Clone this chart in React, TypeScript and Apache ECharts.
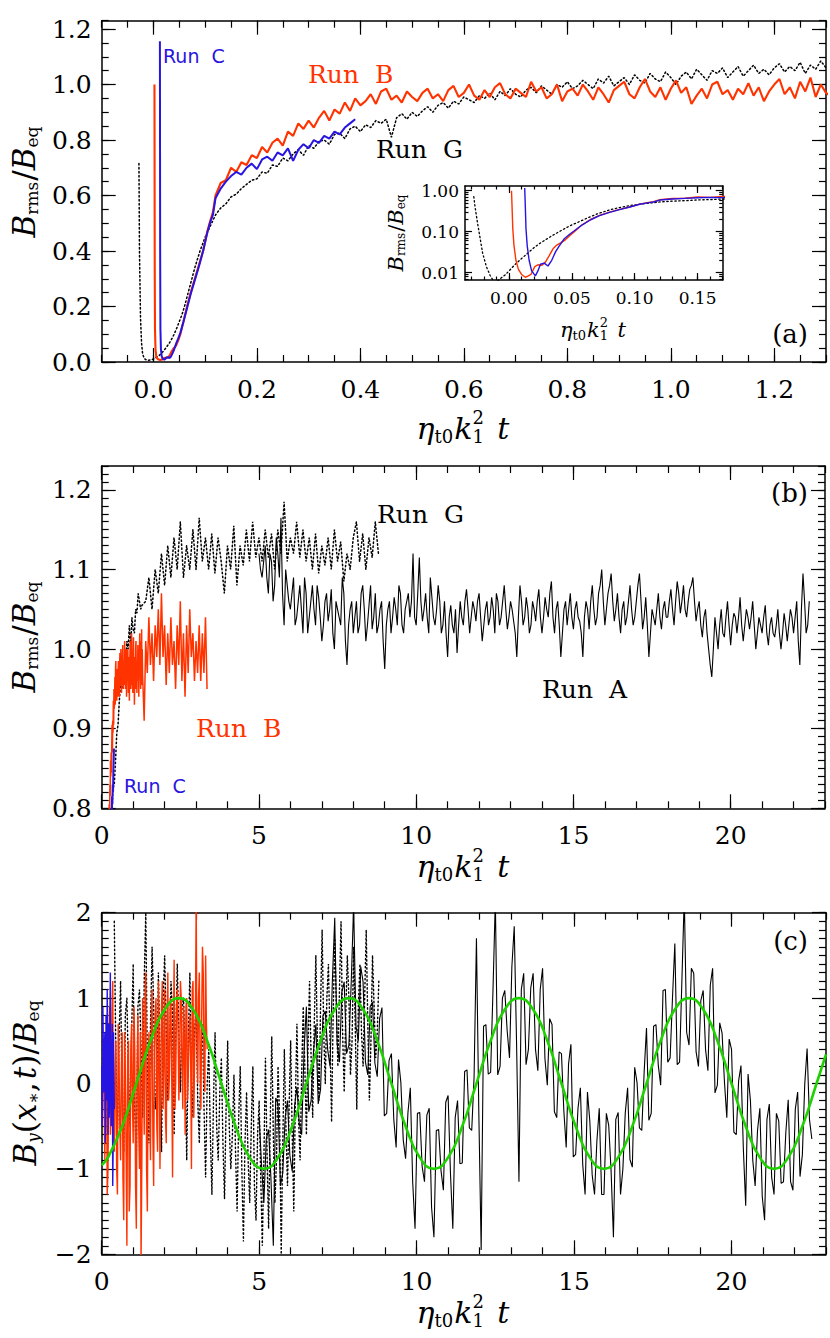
import React, { useEffect, useRef } from "react";
import * as echarts from "echarts";

// ---------------- Panels (a) and (b): B_rms / B_eq ----------------
// Run B (red): early phase as explicit (t, value) pairs
const runB_early: [number, number][] = [
  [0.002, 1.0], [0.0025, 0.35], [0.003, 0.12], [0.004, 0.045], [0.0055, 0.02], [0.0075, 0.012],
  [0.01, 0.009], [0.013, 0.0077], [0.015, 0.0082], [0.0175, 0.009], [0.0205, 0.014], [0.023, 0.0155],
  [0.026, 0.015], [0.029, 0.018], [0.032, 0.026], [0.035, 0.038], [0.038, 0.047], [0.041, 0.053],
  [0.044, 0.06], [0.048, 0.078], [0.052, 0.1], [0.058, 0.145], [0.065, 0.2], [0.072, 0.25],
  [0.08, 0.3], [0.088, 0.35], [0.096, 0.4], [0.104, 0.47], [0.11, 0.51], [0.115, 0.54],
];
// Run B, sampled every 0.01 from t = 0.12 to 1.30
const runB_midStart = 0.12;
const runB_midStep = 0.01;
const runB_mid = [
  0.60, 0.645, 0.655, 0.70, 0.685, 0.72, 0.71, 0.745, 0.735, 0.775,
  0.755, 0.79, 0.805, 0.78, 0.83, 0.815, 0.86, 0.84, 0.87, 0.845,
  0.88, 0.905, 0.87, 0.91, 0.895, 0.935, 0.905, 0.95, 0.925, 0.94,
  0.965, 0.93, 0.975, 0.985, 0.945, 0.96, 0.935, 0.975, 0.955, 0.94,
  0.97, 0.985, 0.95, 0.965, 0.94, 0.98, 0.995, 0.955, 0.97, 1.0,
  0.96, 0.945, 0.98, 0.955, 0.99, 1.005, 0.965, 0.95, 0.985, 0.97,
  0.955, 1.01, 0.975, 0.99, 0.95, 0.965, 1.0, 0.94, 0.975, 0.985,
  0.96, 1.0, 0.975, 0.945, 0.99, 0.965, 0.935, 0.98, 0.995, 1.01,
  0.965, 0.95, 0.99, 1.02, 0.975, 0.955, 0.99, 0.945, 0.985, 1.015,
  0.97, 0.99, 0.93, 0.96, 0.985, 0.95, 1.0, 1.01, 0.965, 0.98,
  0.945, 0.985, 0.965, 1.005, 0.96, 0.99, 0.94, 0.975, 1.0, 1.02,
  0.965, 0.99, 0.95, 1.01, 0.975, 1.025, 0.955, 1.0, 0.97,
];
// Run B, sampled every 0.05 from t = 1.35 to 3.35
const runB_lateStart = 1.35;
const runB_lateStep = 0.05;
const runB_late = [
  0.91, 1.01, 0.97, 1.04, 0.98, 1.02, 0.96, 1.03, 0.99, 1.05,
  0.98, 1.07, 0.99, 1.03, 0.955, 1.02, 0.97, 1.04, 0.98, 1.01,
  0.95, 1.03, 0.98, 1.06, 0.96, 1.02, 0.94, 1.03, 0.97, 1.05,
  0.99, 1.02, 0.96, 1.01, 0.97, 1.03, 0.96, 1.02, 0.97, 1.04,
  0.95,
];

// Run C (blue)
const runC_early: [number, number][] = [
  [0.0125, 1.156], [0.013, 0.4], [0.0135, 0.12], [0.0145, 0.045], [0.016, 0.02], [0.018, 0.011],
  [0.021, 0.0083], [0.023, 0.011], [0.025, 0.016], [0.028, 0.017], [0.031, 0.0145], [0.034, 0.02],
  [0.037, 0.032], [0.04, 0.045], [0.044, 0.067], [0.048, 0.085], [0.052, 0.105], [0.058, 0.145],
  [0.065, 0.195], [0.072, 0.245], [0.08, 0.295], [0.088, 0.345], [0.096, 0.4], [0.104, 0.465],
  [0.11, 0.505], [0.115, 0.53],
];
const runC_midStart = 0.12;
const runC_midStep = 0.01;
const runC_mid = [
  0.59, 0.625, 0.65, 0.67, 0.685, 0.675, 0.70, 0.715, 0.695, 0.73,
  0.74, 0.725, 0.755, 0.745, 0.77, 0.725, 0.765, 0.785, 0.77, 0.80,
  0.79, 0.815, 0.805, 0.83, 0.82, 0.845, 0.86, 0.875,
];

// Run G (black dotted)
const runG_early: [number, number][] = [
  [-0.028, 0.715], [-0.027, 0.4], [-0.025, 0.16], [-0.023, 0.07], [-0.021, 0.03], [-0.018, 0.014],
  [-0.015, 0.0085], [-0.012, 0.006], [-0.009, 0.0063], [-0.006, 0.0075], [-0.003, 0.0088], [0.0, 0.011],
  [0.005, 0.016], [0.01, 0.022], [0.015, 0.03], [0.02, 0.041], [0.025, 0.053], [0.03, 0.066],
  [0.035, 0.082], [0.04, 0.1], [0.045, 0.122], [0.05, 0.146], [0.055, 0.17], [0.06, 0.2],
  [0.07, 0.27], [0.08, 0.34], [0.09, 0.4], [0.1, 0.45], [0.11, 0.49],
];
const runG_midStart = 0.12;
const runG_midStep = 0.01;
const runG_mid = [
  0.53, 0.555, 0.57, 0.595, 0.605, 0.625, 0.64, 0.655, 0.66, 0.685,
  0.68, 0.71, 0.705, 0.735, 0.725, 0.75, 0.765, 0.745, 0.78, 0.77,
  0.795, 0.80, 0.785, 0.82, 0.825, 0.805, 0.84, 0.85, 0.83, 0.855,
  0.845, 0.87, 0.86, 0.875, 0.81, 0.88, 0.895, 0.875, 0.90, 0.885,
  0.905, 0.92, 0.90, 0.925, 0.935, 0.915, 0.94, 0.93, 0.955, 0.945,
  0.935, 0.96, 0.95, 0.97, 0.945, 0.975, 0.96, 0.985, 0.965, 0.955,
  0.98, 0.99, 0.97, 0.995, 0.98, 0.965, 1.0, 0.99, 1.01, 0.985,
  0.995, 1.015, 1.0, 0.985, 1.02, 1.005, 1.03, 0.995, 1.01, 1.025,
  1.0, 1.035, 1.015, 1.005, 1.04, 1.02, 1.01, 1.045, 1.025, 1.0,
  1.03, 1.045, 1.02, 1.055, 1.035, 1.015, 1.05, 1.04, 1.06, 1.025,
  1.045, 1.065, 1.03, 1.05, 1.07, 1.04, 1.055, 1.035, 1.06, 1.075,
  1.045, 1.065, 1.05, 1.08, 1.04, 1.07, 1.055, 1.085, 1.06,
];
const runG_lateStart = 1.4;
const runG_lateStep = 0.1;
const runG_late = [
  1.06, 1.09, 1.05, 1.10, 1.07, 1.12, 1.08, 1.13, 1.09, 1.14,
  1.10, 1.16, 1.09, 1.13, 1.10, 1.15, 1.10, 1.165, 1.11, 1.14,
  1.10, 1.145, 1.095, 1.14, 1.11, 1.07, 1.13, 1.10, 1.155, 1.08,
  1.13, 1.105, 1.15, 1.11, 1.16, 1.115, 1.14, 1.11, 1.15, 1.115,
  1.145, 1.10, 1.15, 1.12, 1.185, 1.11, 1.14, 1.12, 1.16, 1.115,
  1.15, 1.11, 1.14, 1.10, 1.145, 1.095, 1.13, 1.105, 1.14, 1.10,
  1.15, 1.11, 1.135, 1.085, 1.12, 1.10, 1.14, 1.16, 1.11, 1.145,
  1.10, 1.14, 1.115, 1.16, 1.12,
];

// Run A (black solid), panel (b): every 0.05 from t = 5.0 to 22.5
const runA_bStart = 5.0;
const runA_bStep = 0.05;
const runA_b = [
  1.12, 1.10, 1.09, 1.11, 1.13, 1.09, 1.07, 1.12, 1.11, 1.06, 1.08, 1.14, 1.12, 1.09, 1.165, 1.07, 1.03, 1.10, 1.08, 1.06,
  1.05, 1.07, 1.09, 1.03, 1.04, 1.06, 1.08, 1.05, 1.02, 1.09, 1.07, 1.02, 1.04, 1.06, 1.08, 1.05, 1.03, 1.08, 1.065, 1.04,
  1.01, 1.03, 1.06, 1.07, 1.035, 1.05, 1.075, 1.02, 1.00, 1.06, 1.05, 1.04, 1.03, 1.09, 1.07, 1.01, 0.98, 1.03, 1.05, 1.06,
  1.02, 1.04, 1.06, 1.02, 1.03, 1.07, 1.08, 1.05, 1.01, 1.03, 1.055, 1.08, 1.025, 1.04, 1.07, 1.02, 1.03, 1.05, 1.06, 1.01,
  0.975, 1.03, 1.05, 1.06, 1.02, 1.04, 1.065, 1.05, 1.03, 1.08, 1.07, 1.03, 1.02, 1.05, 1.06, 1.07, 1.04, 1.06, 1.12, 1.04,
  1.03, 1.07, 1.115, 1.06, 1.035, 1.05, 1.07, 1.04, 1.02, 1.09, 1.065, 1.04, 1.03, 1.05, 1.08, 1.06, 1.02, 1.03, 1.06, 1.02,
  0.99, 1.04, 1.055, 1.03, 1.02, 1.05, 0.995, 1.03, 1.06, 1.04, 1.03, 1.06, 1.075, 1.05, 1.02, 1.04, 1.06, 1.05, 1.035, 1.06,
  1.07, 1.04, 1.01, 1.03, 1.05, 1.06, 1.03, 1.04, 1.065, 1.05, 1.02, 1.07, 1.06, 1.03, 1.04, 1.06, 1.08, 1.05, 1.025, 1.04,
  1.06, 1.05, 1.035, 1.02, 0.99, 1.04, 1.08, 1.06, 1.03, 1.04, 1.065, 1.05, 1.02, 1.03, 1.06, 1.05, 1.035, 1.06, 1.075, 1.04,
  1.02, 1.04, 1.065, 1.05, 1.04, 1.07, 1.085, 1.04, 1.02, 1.05, 1.06, 1.03, 0.99, 1.02, 1.05, 1.06, 1.03, 1.05, 1.07, 1.04,
  1.025, 1.05, 1.06, 1.04, 1.035, 1.02, 0.99, 1.04, 1.06, 1.05, 1.025, 1.06, 1.08, 1.05, 1.03, 1.04, 1.07, 1.08, 1.10, 1.06,
  1.03, 1.05, 1.07, 1.08, 1.095, 1.06, 1.035, 1.05, 1.07, 1.04, 1.02, 1.05, 1.06, 1.03, 1.04, 1.06, 1.08, 1.05, 1.03, 1.04,
  1.06, 1.08, 1.095, 1.06, 1.025, 1.04, 1.065, 1.03, 0.99, 1.02, 1.05, 1.04, 1.03, 1.05, 1.07, 1.04, 1.025, 1.05, 1.06, 1.04,
  1.04, 1.06, 1.075, 1.05, 1.03, 1.06, 1.085, 1.07, 1.045, 1.06, 1.08, 1.05, 1.04, 1.06, 1.075, 1.08, 1.09, 1.06, 1.035, 1.05,
  1.06, 1.03, 1.015, 1.04, 1.05, 1.02, 1.00, 0.98, 0.965, 1.00, 1.04, 1.02, 1.0, 1.03, 1.05, 1.02, 1.015, 1.04, 1.06, 1.03,
  1.005, 1.03, 1.045, 1.04, 1.02, 1.04, 1.065, 1.03, 1.01, 1.03, 1.05, 1.04, 1.025, 1.04, 1.06, 1.03, 1.0, 1.02, 1.04, 1.03,
  1.02, 1.04, 1.055, 1.02, 1.005, 1.03, 1.04, 1.02, 1.015, 1.03, 1.05, 1.02, 1.0, 1.02, 1.045, 1.03, 1.01, 1.03, 1.05, 1.04,
  1.02, 1.04, 1.06, 1.01, 0.98, 1.05, 1.095, 1.06, 1.02, 1.03, 1.06,
];

// ---------------- Panel (c): B_y(x*, t) / B_eq ----------------
// Run A: every 0.075 from t = 5.0 to 22.55
const runA_cStart = 5.0;
const runA_cStep = 0.075;
const runA_c = [
  -0.39, -0.95, -1.40, -0.65, -0.54, -1.12, -1.90, -0.17, -0.24, -1.20,
  -1.05, -0.40, -0.20, -0.84, -1.03, -0.26, -0.04, -0.47, -0.60, 0.38,
  0.90, -0.33, -0.20, 0.37, 0.69, -0.24, -0.07, 0.79, 0.85, 0.40,
  0.20, 1.20, 1.94, 0.47, 0.25, 1.07, 1.19, 0.35, 0.45, 1.20,
  2.09, 0.67, 0.50, 1.37, 1.19, 0.25, 0.10, 0.90, 0.95, 0.24,
  0.08, 0.76, 0.89, -0.38, -0.35, 0.27, 0.35, -0.42, -0.75, 0.28,
  0.01, -0.66, -0.88, -0.34, -0.05, -1.15, -1.70, -0.35, -0.34, -0.97,
  -1.15, -0.37, -0.29, -1.45, -1.80, -0.55, -0.54, -1.02, -1.25, -0.22,
  -0.14, -1.05, -1.70, -0.40, -0.20, -0.94, -0.93, 0.14, 0.16, -0.52,
  -0.55, 0.08, 1.70, -0.33, -1.95, 0.67, 0.69, 0.11, 0.13, 1.09,
  2.15, 0.10, 0.20, 1.00, 1.09, 0.62, 0.30, 1.37, 1.84, 0.45,
  -1.15, 1.10, 1.29, 0.22, 0.40, 1.12, 1.29, 0.40, 0.15, 1.10,
  1.35, 0.29, -0.02, 0.76, 0.69, -0.33, -0.40, 0.37, 0.35, -0.32,
  -0.75, 0.23, 0.46, -0.86, -0.83, -0.29, -0.05, -0.95, -1.30, -0.10,
  -0.44, -1.07, -1.30, -0.67, -0.29, -1.30, -1.30, -0.35, -0.49, -1.02,
  -1.80, -0.42, -0.34, -1.30, -1.00, -0.35, -0.05, -0.89, -0.98, 0.19,
  0.01, -0.52, -0.55, 0.13, 0.65, -0.43, -0.35, 0.67, 0.69, 0.21,
  -0.02, 1.09, 1.10, 0.25, 0.30, 1.00, 1.64, 0.22, 0.25, 1.22,
  2.19, 0.60, 0.45, 1.35, 1.29, 0.37, 0.20, 0.97, 1.09, 0.40,
  0.15, 1.15, 1.35, -0.11, -0.02, 0.71, 0.59, 0.02, -0.40, 0.52,
  0.40, -0.57, -0.60, 0.03, 0.21, -0.76, -1.43, 0.11, -0.20, -0.90,
  -1.20, -0.55, -0.29, -1.32, -1.60, -0.42, -0.24, -1.10, -1.30, -0.35,
  -0.44, -1.17, -1.15, -0.57, -0.19, -1.15, -1.25, -0.30, -0.10, -1.09,
  -0.83, -0.01, 0.41, -0.42, -0.65,
];
// Run G: every 0.05 from t = 0.4 to 8.8
const runG_cStart = 0.4;
const runG_cStep = 0.05;
const runG_c = [
  1.9, 0.3, -0.6, 0.5, 1.2, -0.2, -0.8, 0.8, 1.0, 0.1,
  -0.5, 0.6, 1.4, -0.3, -0.85, 0.9, 1.1, 0.4, -0.4, 1.2,
  2.0, 0.2, -0.7, 0.7, 1.6, 0.9, -0.3, -0.1, 1.3, 0.4,
  -0.8, 1.0, 1.5, 0.6, -0.2, 0.3, 1.2, 0.8, -0.6, 0.5,
  1.4, 0.6, -0.1, 0.9, 1.0, 0.2, -0.9, 0.5, 1.3, 0.1,
  -0.4, 0.6, 0.9, -0.2, -0.7, 0.4, 0.7, -0.3, -1.1, 0.0,
  0.4, -0.6, -1.3, -0.2, 0.6, -0.5, -0.9, -0.1, 0.3, -0.7,
  -1.35, -0.3, 0.5, -0.5, -1.0, -0.6, 0.1, -0.8, -1.5, -0.4,
  0.2, -1.0, -1.85, -0.7, -0.1, -0.9, -1.4, -0.5, 0.2, -1.2,
  -1.6, -0.6, -0.2, -1.1, -1.9, -0.9, 0.3, -0.8, -1.7, -0.5,
  0.55, -0.6, -1.4, -0.9, 0.2, -0.4, -2.0, -0.7, 0.4, -0.5,
  -1.2, -0.3, 0.5, -0.6, -1.5, -0.2, 0.7, -0.4, -0.9, 0.1,
  0.9, 0.2, -0.6, 0.4, 1.2, 0.3, -0.4, 0.7, 1.5, 0.5,
  -0.2, 0.9, 1.8, 0.6, 0.0, 1.0, 1.4, 0.5, -0.45, 0.8,
  1.7, 0.9, 0.2, 1.1, 1.9, 0.6, -0.1, 0.8, 1.5, 1.0,
  0.1, 0.5, 1.6, 0.7, -0.3, 0.9, 1.4, 0.6, 0.2, 1.0,
  1.8, 0.7, -0.2, 0.5, 1.5, 0.9, 0.3, 0.6, 1.2,
];
// Run B: every 0.025 from t = 0.05 to 3.35
const runB_cStart = 0.05;
const runB_cStep = 0.025;
const runB_c = [
  0.4, -0.2, -0.9, 0.5, 0.6, -1.3, -1.0, 0.2, 0.9, -0.6,
  -0.3, 0.8, 1.2, -0.4, -0.8, 0.1, 0.5, -1.0, -1.3, 0.7,
  0.3, -0.5, -0.9, 0.2, 0.6, -1.1, -1.6, 0.6, 0.2, -0.8,
  -1.9, 0.3, 0.5, -1.5, -1.2, 0.4, 0.7, -0.2, -0.7, 0.9,
  0.4, -1.2, -1.7, 0.2, 0.8, -0.5, -1.0, 0.6, -2.1, -0.9,
  1.0, 0.3, -0.6, 0.9, 1.3, -1.0, -1.5, 0.2, 0.6, -0.4,
  -0.9, 0.7, 1.1, -0.6, -1.2, 0.4, 0.8, 1.0, -0.5, -0.8,
  1.2, 0.5, -1.0, -0.2, 0.9, 1.2, -0.3, 0.3, 1.1, -0.4,
  -0.7, 0.6, 1.3, -0.2, 0.1, 1.0, 0.9, 0.0, -1.1, 0.5,
  1.45, -0.3, 0.0, 0.9, 1.1, 0.6, -0.2, 0.2, 1.2, 1.0,
  0.2, -0.3, 0.9, 0.5, -0.6, 0.9, 1.0, -0.2, 0.1, 0.6,
  0.8, 0.3, -1.0, 1.1, 1.2, -0.4, 0.3, 0.8, 2.1, 0.5,
  0.0, 1.0, 1.3, 0.2, -0.3, 0.8, 1.6, 1.3, 0.1, -0.1,
  1.5, 0.7, 0.4,
];
// Run C: every 0.0125 from t = 0 to 0.4
const runC_cStart = 0.0;
const runC_cStep = 0.0125;
const runC_c = [
  0.2, -0.5, -0.3, 0.9, 0.5, 0.1, -0.1, 0.4, 0.6, -0.7,
  -0.4, 0.8, 0.3, -0.2, 1.1, 0.5, -0.6, 0.3, 0.7, -0.4,
  -0.2, 0.9, 1.3, -0.1, -0.5, 0.2, 0.4, 0.7, -1.2, -0.8,
  0.6, 0.1, -0.3,
];
// green reference wave, read at 0.45 spacing (plus end points)
const green_first: [number, number] = [0, -0.958];
const green_midStart = 0.2;
const green_midStep = 0.45;
const green_mid = [
  -0.866, -0.5, 0, 0.5, 0.866, 1, 0.866, 0.5, 0, -0.5,
  -0.866, -1, -0.866, -0.5, 0, 0.5, 0.866, 1, 0.866, 0.5,
  0, -0.5, -0.866, -1, -0.866, -0.5, 0, 0.5, 0.866, 1,
  0.866, 0.5, 0, -0.5, -0.866, -1, -0.866, -0.5, 0, 0.5,
  0.866, 1, 0.866, 0.5, 0, -0.5, -0.866, -1, -0.866, -0.5,
  0,
];
const green_last: [number, number] = [23.0, 0.342];

// ---------------- tick labels ----------------
const ticksA = [0, 0.2, 0.4, 0.6, 0.8, 1.0, 1.2];
const ticksBx = [0, 5, 10, 15, 20];
const ticksBy = [0.8, 0.9, 1.0, 1.1, 1.2];
const ticksCy = [-2, -1, 0, 1, 2];
const ticksInX = [0, 0.05, 0.1, 0.15];
const minorInX = [-0.03, -0.02, -0.01, 0, 0.01, 0.02, 0.03, 0.04, 0.05, 0.06, 0.07, 0.08, 0.09, 0.1, 0.11, 0.12, 0.13, 0.14, 0.15, 0.16, 0.17];
const ticksInY = [0.01, 0.1, 1];
const minorInY = [0.007, 0.008, 0.009, 0.02, 0.03, 0.04, 0.05, 0.06, 0.07, 0.08, 0.09, 0.2, 0.3, 0.4, 0.5, 0.6, 0.7, 0.8, 0.9];

const RED = "#ff3300";
const BLUE = "#2814e0";
const GREEN = "#1ed200";
const SERIF = '"DejaVu Serif", serif';

function sampled(start: number, step: number, vals: number[]): [number, number][] {
  return vals.map((v, i) => [Math.round((start + i * step) * 10000) / 10000, v]);
}

let measureCtx: CanvasRenderingContext2D | null = null;
function measure(text: string, font: string) {
  if (!measureCtx) measureCtx = document.createElement("canvas").getContext("2d");
  measureCtx!.font = font;
  return measureCtx!.measureText(text).width;
}

type Piece = { t: string; s: number; it?: boolean; dy?: number; stack?: boolean; gap?: number };
function mathLabel(pieces: Piece[], cx: number, cy: number, rotate: boolean) {
  let x = 0;
  let prevStart = 0;
  const items: any[] = [];
  pieces.forEach((p) => {
    const font = `${p.it ? "italic " : ""}${p.s}px "DejaVu Serif"`;
    const w = measure(p.t, font);
    let start: number;
    if (p.stack) {
      start = prevStart;
      x = Math.max(x, prevStart + w);
    } else {
      x += p.gap || 0;
      start = x;
      x += w;
    }
    items.push({
      type: "text", x: start, y: p.dy || 0, silent: true,
      style: { text: p.t, font, fill: "#000", textAlign: "left", align: "left", textVerticalAlign: "middle", verticalAlign: "middle" },
    });
    prevStart = start;
  });
  const W = x;
  items.forEach((it) => (it.x -= W / 2));
  return { type: "group", x: cx, y: cy, rotation: rotate ? Math.PI / 2 : 0, children: items, silent: true };
}

const xTitle = (s: number, ss: number, dsub: number, dsup: number): Piece[] => [
  { t: "η", s, it: true },
  { t: "t0", s: ss, dy: dsub },
  { t: "k", s, it: true, gap: 1 },
  { t: "1", s: ss, dy: dsub },
  { t: "2", s: ss, dy: -dsup, stack: true },
  { t: "t", s, it: true, gap: s * 0.45 },
];
const rmsTitle = (s: number, ss: number, dsub: number): Piece[] => [
  { t: "B", s, it: true },
  { t: "rms", s: ss, dy: dsub },
  { t: "/", s, gap: 1 },
  { t: "B", s, it: true },
  { t: "eq", s: ss, dy: dsub },
];
const byTitle = (s: number, ss: number, dsub: number): Piece[] => [
  { t: "B", s, it: true },
  { t: "y", s: ss, it: true, dy: dsub },
  { t: "(", s },
  { t: "x", s, it: true },
  { t: "∗", s: ss, dy: dsub },
  { t: ",", s },
  { t: "t", s, it: true, gap: 3 },
  { t: ")", s },
  { t: "/", s },
  { t: "B", s, it: true },
  { t: "eq", s: ss, dy: dsub },
];

interface AxSpec {
  type?: "value" | "log";
  min: number; max: number;
  step?: number;
  minor?: number[];
  majors: number[];
  fmt: (v: number) => string;
  big: number; small: number;
  fontSize: number; margin: number;
}
function buildAxes(dim: "x" | "y", gridIndex: number, s: AxSpec) {
  const sides = dim === "x" ? ["bottom", "top"] : ["left", "right"];
  const base: any = {
    type: s.type || "value", gridIndex, min: s.min, max: s.max,
    splitLine: { show: false }, splitArea: { show: false }, silent: true,
  };
  if (s.type === "log") base.logBase = 10;
  else if (s.step) base.interval = s.step;
  const tickStyle = { color: "#000", width: 1.2 };
  const res: any[] = [];
  sides.forEach((pos, i) => {
    res.push({
      ...base, position: pos,
      axisLine: { show: true, onZero: false, lineStyle: { color: "#000", width: 1.5 } },
      axisTick: { show: true, inside: true, length: s.small, lineStyle: tickStyle, ...(s.minor ? { customValues: s.minor } : {}) },
      axisLabel: i === 0
        ? { show: true, customValues: s.majors, formatter: (v: any) => s.fmt(Number(v)), color: "#000", fontFamily: SERIF, fontSize: s.fontSize, margin: s.margin }
        : { show: false },
    });
    res.push({
      ...base, position: pos,
      axisLine: { show: false, onZero: false },
      axisTick: { show: true, inside: true, length: s.big, lineStyle: tickStyle, customValues: s.majors },
      axisLabel: { show: false },
    });
  });
  return res;
}

function line(name: string, data: any[], xi: number, yi: number, color: string, width: number, dotted = false, smooth = false): any {
  return {
    name, type: "line", data, xAxisIndex: xi, yAxisIndex: yi, showSymbol: false, symbol: "none",
    smooth, clip: true, silent: true, animation: false, emphasis: { disabled: true },
    lineStyle: { color, width, type: dotted ? [1.4, 2.6] : "solid", cap: dotted ? "round" : "butt" },
  };
}

function txt(text: string, x: number, y: number, font: string, color = "#000", align = "left") {
  return {
    type: "text", x, y, silent: true,
    style: { text, font, fill: color, textAlign: align, align, textVerticalAlign: "middle", verticalAlign: "middle" },
  };
}

function buildOption() {
  const runB = [...runB_early, ...sampled(runB_midStart, runB_midStep, runB_mid), ...sampled(runB_lateStart, runB_lateStep, runB_late)];
  const runC = [...runC_early, ...sampled(runC_midStart, runC_midStep, runC_mid)];
  const runG = [...runG_early, ...sampled(runG_midStart, runG_midStep, runG_mid), ...sampled(runG_lateStart, runG_lateStep, runG_late)];
  const runA = sampled(runA_bStart, runA_bStep, runA_b);
  const late = (d: [number, number][]) => d.filter((p) => p[0] >= 0.12);
  // panel (b) is 16x more compressed in time: show every 4th early Run G sample
  const runGb = late(runG).filter((p, i) => p[0] >= 1.35 || i % 4 === 0);

  const xAxes: any[] = [];
  const yAxes: any[] = [];
  const addX = (g: number, s: AxSpec) => { const i = xAxes.length; xAxes.push(...buildAxes("x", g, s)); return i; };
  const addY = (g: number, s: AxSpec) => { const i = yAxes.length; yAxes.push(...buildAxes("y", g, s)); return i; };

  const f1 = (v: number) => v.toFixed(1);
  const fInt = (v: number) => String(v);
  const fC = (v: number) => (v < 0 ? "\u2212" + Math.abs(v) : String(v));
  const f2 = (v: number) => v.toFixed(2);

  const xa = addX(0, { min: -0.1, max: 1.3, step: 0.05, majors: ticksA, fmt: f1, big: 14, small: 7, fontSize: 25, margin: 15 });
  const ya = addY(0, { min: 0, max: 1.23, step: 0.05, majors: ticksA, fmt: f1, big: 14, small: 7, fontSize: 25, margin: 10 });
  const xb = addX(1, { min: 0, max: 23, step: 1, majors: ticksBx, fmt: fInt, big: 14, small: 7, fontSize: 25, margin: 15 });
  const yb = addY(1, { min: 0.8, max: 1.23, step: 0.01, majors: ticksBy, fmt: f1, big: 14, small: 7, fontSize: 25, margin: 10 });
  const xc = addX(2, { min: 0, max: 23, step: 1, majors: ticksBx, fmt: fInt, big: 14, small: 7, fontSize: 25, margin: 15 });
  const yc = addY(2, { min: -2, max: 2, step: 0.1, majors: ticksCy, fmt: fC, big: 14, small: 7, fontSize: 25, margin: 10 });
  const xi = addX(3, { min: -0.035, max: 0.17, minor: minorInX, majors: ticksInX, fmt: f2, big: 7, small: 3.5, fontSize: 17, margin: 9 });
  const yi = addY(3, { type: "log", min: 0.0066, max: 1.3, minor: minorInY, majors: ticksInY, fmt: f2, big: 7, small: 3.5, fontSize: 17, margin: 6 });

  const grids = [
    { left: 101.7, top: 20.7, width: 724.3, height: 341.3 },
    { left: 101.7, top: 466, width: 723.3, height: 342.3 },
    { left: 101.7, top: 912.7, width: 724.3, height: 341.6 },
    { left: 465, top: 186, width: 257.7, height: 94, show: true, backgroundColor: "#fff", borderWidth: 0 },
  ].map((g) => ({ ...g, containLabel: false, outerBoundsMode: "none" }));

  const series = [
    // (a)
    line("Run G (a)", runG, xa, ya, "#000", 1.5, true),
    line("Run B (a)", runB, xa, ya, RED, 2.1),
    line("Run C (a)", runC, xa, ya, BLUE, 2.0),
    // (b)
    line("Run A (b)", runA, xb, yb, "#000", 1.1),
    line("Run G (b)", runGb, xb, yb, "#000", 1.5, true),
    line("Run B (b)", late(runB), xb, yb, RED, 1.5),
    line("Run C (b)", late(runC), xb, yb, BLUE, 2),
    // (c)
    line("Run A (c)", sampled(runA_cStart, runA_cStep, runA_c), xc, yc, "#000", 1.1),
    line("Run G (c)", sampled(runG_cStart, runG_cStep, runG_c), xc, yc, "#000", 1.4, true),
    line("Run B (c)", sampled(runB_cStart, runB_cStep, runB_c), xc, yc, RED, 1.4),
    line("Run C (c)", sampled(runC_cStart, runC_cStep, runC_c), xc, yc, BLUE, 1.4),
    line("wave", [green_first, ...sampled(green_midStart, green_midStep, green_mid), green_last], xc, yc, GREEN, 2.6, false, true),
    // inset
    line("Run G inset", runG, xi, yi, "#000", 1.3, true),
    line("Run B inset", runB, xi, yi, RED, 1.4),
    line("Run C inset", runC, xi, yi, BLUE, 1.4),
  ];

  const sansRun = '19px "DejaVu Sans"';
  const serifRun = '25px "DejaVu Serif"';
  const nb = "\u00a0\u00a0";
  const graphic = [
    txt("Run" + nb + "C", 163, 56, sansRun, BLUE),
    txt("Run" + nb + "B", 308, 74, serifRun, RED),
    txt("Run" + nb + "G", 376, 149, serifRun, "#000"),
    txt("(a)", 808, 334, '26px "DejaVu Serif"', "#000", "right"),
    txt("Run" + nb + "G", 377, 514, serifRun, "#000"),
    txt("Run" + nb + "A", 542, 689, serifRun, "#000"),
    txt("Run" + nb + "B", 196, 728, serifRun, RED),
    txt("Run" + nb + "C", 124, 786, sansRun, BLUE),
    txt("(b)", 808, 493, '26px "DejaVu Serif"', "#000", "right"),
    txt("(c)", 808, 941, '26px "DejaVu Serif"', "#000", "right"),
    mathLabel(xTitle(30, 18, 8, 11), 463, 428, false),
    mathLabel(xTitle(30, 18, 8, 11), 463, 866, false),
    mathLabel(xTitle(30, 18, 8, 11), 463, 1312, false),
    mathLabel(rmsTitle(31, 17, 8), 24, 182, true),
    mathLabel(rmsTitle(31, 17, 8), 24, 637, true),
    mathLabel(byTitle(31, 17, 8), 25, 1083, true),
    mathLabel(rmsTitle(21, 12, 5), 396, 233, true),
    mathLabel(xTitle(21, 13, 5, 8), 593, 330, false),
  ];

  return {
    animation: false,
    backgroundColor: "#fff",
    grid: grids,
    xAxis: xAxes,
    yAxis: yAxes,
    series,
    graphic,
  };
}

export default function App() {
  const ref = useRef<HTMLDivElement | null>(null);
  useEffect(() => {
    if (!ref.current) return;
    const chart = echarts.init(ref.current, null, { renderer: "svg" });
    chart.setOption(buildOption() as any);
    return () => chart.dispose();
  }, []);
  return (
    <div
      ref={ref}
      style={{ position: "absolute", left: 0, top: 0, width: 830, height: 1338, background: "#fff" }}
    />
  );
}
